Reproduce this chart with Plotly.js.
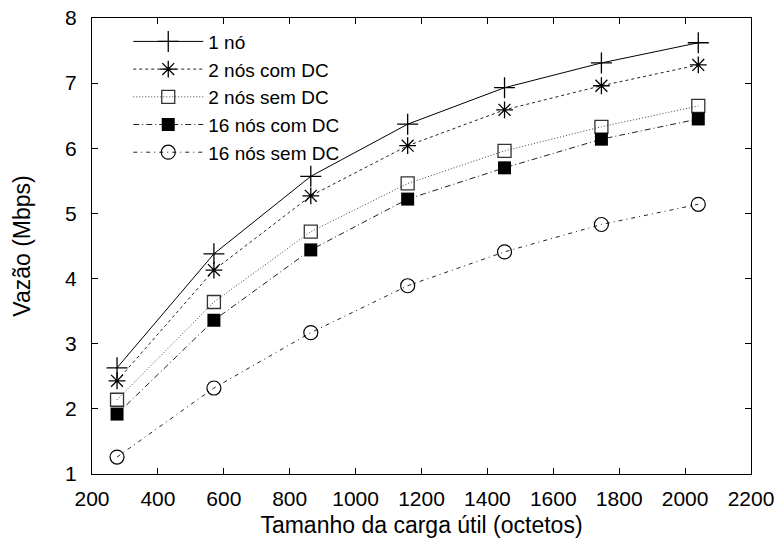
<!DOCTYPE html>
<html>
<head>
<meta charset="utf-8">
<script src="https://cdn.plot.ly/plotly-3.0.1.min.js"></script>
<style>html,body{margin:0;padding:0;background:#fff;}#chart{width:784px;height:549px;}</style>
</head>
<body>
<div id="chart"></div>
<script>
// Data
const payload = [276, 570, 864, 1158, 1452, 1746, 2040];
const seriesNames = ["1 nó", "2 nós com DC", "2 nós sem DC", "16 nós com DC", "16 nós sem DC"];
const um_no = [2.63, 4.38, 5.57, 6.37, 6.93, 7.31, 7.62];
const dois_com_dc = [2.43, 4.13, 5.27, 6.04, 6.59, 6.96, 7.28];
const dois_sem_dc = [2.14, 3.64, 4.72, 5.46, 5.96, 6.33, 6.65];
const dezesseis_com_dc = [1.92, 3.36, 4.44, 5.22, 5.70, 6.14, 6.45];
const dezesseis_sem_dc = [1.26, 2.32, 3.17, 3.89, 4.41, 4.83, 5.14];
const xTicks = [200, 400, 600, 800, 1000, 1200, 1400, 1600, 1800, 2000, 2200];
const yTicks = [1, 2, 3, 4, 5, 6, 7, 8];

const values = [um_no, dois_com_dc, dois_sem_dc, dezesseis_com_dc, dezesseis_sem_dc];
const styles = [
  {dash: "solid", color: "#000", symbol: "cross-thin-open", size: 15, mline: 1.3, mcolor: "#000"},
  {dash: "3px,3px", color: "#222", symbol: "asterisk-open", size: 14, mline: 1.3, mcolor: "#000"},
  {dash: "1px,2px", color: "#444", symbol: "square-open", size: 13, mline: 1.3, mcolor: "#333"},
  {dash: "6px,3px,1px,3px", color: "#222", symbol: "square", size: 13, mline: 0, mcolor: "#000"},
  {dash: "4px,4px,1px,4px", color: "#222", symbol: "circle-open", size: 14, mline: 1.2, mcolor: "#000"}
];

const traces = values.map((v, i) => ({
  x: payload,
  y: v,
  name: seriesNames[i],
  type: "scatter",
  mode: "lines+markers",
  line: {color: styles[i].color, width: 1, dash: styles[i].dash},
  marker: {symbol: styles[i].symbol, size: styles[i].size, color: styles[i].mcolor,
           line: {color: styles[i].mcolor, width: styles[i].mline}}
}));

const fam = "Liberation Sans, Arial, Helvetica, sans-serif";
const font = {family: fam, size: 21, color: "#000"};
const titleFont = {family: fam, size: 23, color: "#000"};
const legendFont = {family: fam, size: 19, color: "#000"};

const layout = {
  width: 784, height: 549,
  margin: {l: 92, r: 33, t: 18, b: 75},
  paper_bgcolor: "#fff", plot_bgcolor: "#fff",
  font: font,
  showlegend: true,
  legend: {x: 0.055, y: 0.99, xanchor: "left", yanchor: "top", bgcolor: "rgba(0,0,0,0)",
           font: legendFont, itemwidth: 70, tracegroupgap: 0},
  xaxis: {
    range: [200, 2200], tickvals: xTicks, ticktext: xTicks.map(String),
    ticks: "inside", ticklen: 6, tickwidth: 1, tickcolor: "#000",
    showline: true, linecolor: "#000", linewidth: 1, mirror: "ticks",
    showgrid: false, zeroline: false, tickfont: font, ticklabelstandoff: 6,
    automargin: false,
    title: {text: "Tamanho da carga útil (octetos)", font: titleFont, standoff: 7}
  },
  yaxis: {
    range: [1, 8], tickvals: yTicks, ticktext: yTicks.map(String),
    ticks: "inside", ticklen: 6, tickwidth: 1, tickcolor: "#000",
    showline: true, linecolor: "#000", linewidth: 1, mirror: "ticks",
    showgrid: false, zeroline: false, tickfont: font, ticklabelstandoff: 10,
    automargin: false,
    title: {text: "Vazão (Mbps)", font: titleFont, standoff: 28}
  }
};

Plotly.newPlot("chart", traces, layout, {displayModeBar: false, staticPlot: true});
</script>
</body>
</html>
